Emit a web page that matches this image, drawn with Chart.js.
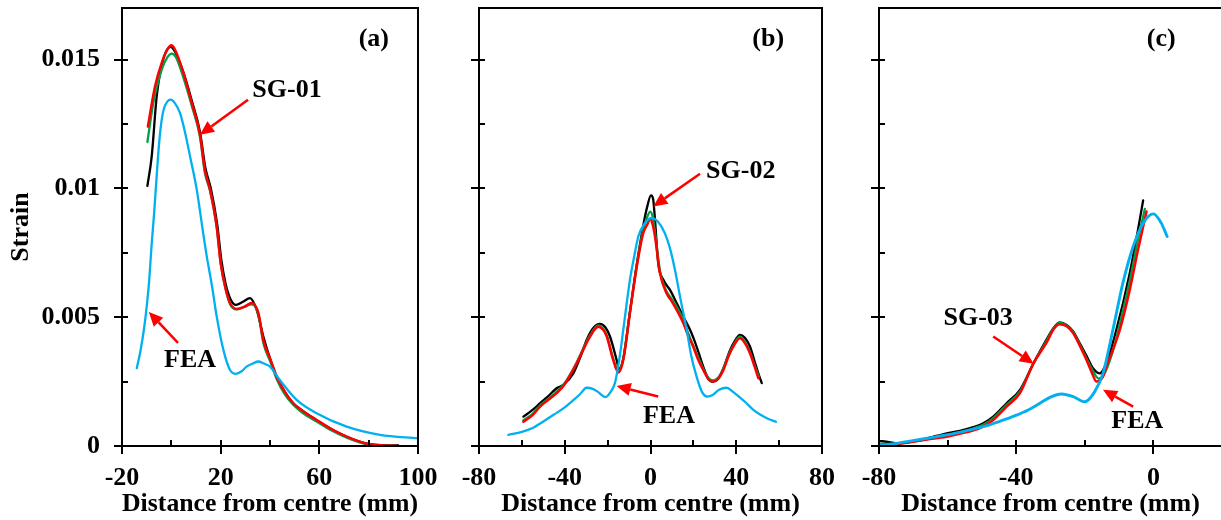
<!DOCTYPE html>
<html>
<head>
<meta charset="utf-8">
<title>Strain profiles</title>
<script src="https://cdn.jsdelivr.net/npm/chart.js@4.4.0/dist/chart.umd.min.js"></script>
<style>
  html, body { margin: 0; padding: 0; background: #fff; overflow: hidden; }
  #wrap { position: relative; width: 1221px; height: 520px; overflow: hidden; }
  canvas { position: absolute; top: 0; }
</style>
</head>
<body>
<div id="wrap">
  <canvas id="panelA" width="440" height="520" style="left:0px"></canvas>
  <canvas id="panelB" width="400" height="520" style="left:440px"></canvas>
  <canvas id="panelC" width="400" height="520" style="left:840px"></canvas>
</div>
<script>
// strain along the specimen, three gauges SG-01..SG-03, three test records + FEA

// ---- (a) SG-01 ----
const aBlackX = [-9.7, -8, -5.9, -3.3, -0.3, 1.5, 4.9, 8.3, 11.6, 13.8, 16, 18.6, 20.3, 22, 24, 26.2, 29, 31.9, 34.6, 37.3, 40, 42.7, 46, 49.4, 53, 58.9, 65, 71.1, 76, 80.5, 86, 92];
const aBlackY = [0.0101, 0.0112, 0.0136, 0.0150, 0.01549, 0.0153, 0.0145, 0.0134, 0.0122, 0.0108, 0.0100, 0.0086, 0.0072, 0.0063, 0.0057, 0.00548, 0.0056, 0.00574, 0.00528, 0.00425, 0.0034, 0.0027, 0.0021, 0.00166, 0.00138, 0.0010, 0.00065, 0.00036, 0.00018, 0.00007, 0.00003, 0.00002];
const aGreenX = [-9.7, -7.3, -3.9, -1.5, 0.1, 1.8, 4.9, 8.3, 11.6, 13.6, 15.7, 18.4, 20, 22, 23.8, 26.5, 29.5, 32.6, 35.3, 37.3, 40, 42.7, 46, 49.4, 53, 58.9, 65, 71.1, 76, 80.5, 86, 90];
const aGreenY = [0.0118, 0.01331, 0.01461, 0.0151, 0.01523, 0.0151, 0.0143, 0.0132, 0.0120, 0.0106, 0.0099, 0.0085, 0.0071, 0.0061, 0.0055, 0.0053, 0.0054, 0.0055, 0.0051, 0.0040, 0.0033, 0.0026, 0.0020, 0.0016, 0.0013, 0.00095, 0.0006, 0.00032, 0.00015, 0.00004, 0.0, 0.0];
const aRedX = [-9.5, -6.6, -3.9, -1.5, 0, 1.5, 4.9, 8.3, 11.6, 13.6, 15.7, 18.4, 20, 22, 23.8, 26.5, 29.5, 32.6, 35.3, 37.3, 40, 42.7, 46, 49.4, 53, 58.9, 65, 71.1, 76, 80.5, 86, 91.4];
const aRedY = [0.0124, 0.01396, 0.01487, 0.0154, 0.01555, 0.01538, 0.01448, 0.01331, 0.0121, 0.0107, 0.00995, 0.0085, 0.0071, 0.0061, 0.00555, 0.00532, 0.0054, 0.00555, 0.00516, 0.0041, 0.0034, 0.00269, 0.0021, 0.00166, 0.00138, 0.00101, 0.00065, 0.00036, 0.00018, 0.00006, 0.00002, 0.0];
const aFeaX = [-14, -12.5, -11, -10, -9, -8, -7, -6, -5, -4, -3, -1.5, -0.3, 1.5, 3.5, 5.5, 7.6, 10.3, 12.7, 14.3, 16.5, 18.4, 21.1, 23.8, 26.2, 28.5, 30.5, 33, 35.3, 37.5, 40, 44, 50.8, 58.9, 71.1, 84.6, 100];
const aFeaY = [0.00302, 0.0037, 0.0046, 0.0054, 0.0064, 0.0078, 0.0090, 0.0104, 0.0117, 0.0126, 0.0131, 0.01338, 0.01344, 0.0133, 0.01293, 0.0122, 0.01124, 0.00995, 0.0084, 0.0074, 0.0062, 0.00502, 0.00373, 0.00295, 0.0028, 0.0029, 0.00308, 0.0032, 0.00328, 0.0032, 0.00308, 0.00256, 0.00179, 0.00127, 0.00075, 0.00043, 0.0003];

// ---- (b) SG-02 ----
const bBlackX = [-59.3, -55, -51.5, -47.5, -43.8, -40.7, -36, -32.5, -29.8, -26.5, -23.6, -21, -18.9, -15.8, -14.7, -12.7, -9.6, -6.5, -3.5, -1.5, 0.2, 1.2, 2.1, 3.6, 6, 9.1, 12.2, 15.3, 18.5, 21.5, 24.6, 27, 29.2, 31.5, 34, 37, 39.5, 41.7, 44, 46.4, 48.5, 50.3, 51.9];
const bBlackY = [0.00114, 0.0014, 0.00166, 0.00195, 0.00224, 0.00237, 0.00282, 0.0035, 0.00412, 0.0046, 0.00474, 0.0046, 0.00425, 0.00334, 0.00298, 0.0034, 0.0052, 0.0070, 0.0085, 0.0093, 0.00973, 0.0096, 0.00878, 0.0071, 0.00645, 0.00606, 0.00555, 0.00502, 0.0045, 0.00386, 0.00308, 0.0026, 0.0025, 0.0026, 0.00302, 0.0037, 0.0041, 0.00431, 0.0042, 0.00386, 0.0033, 0.00282, 0.00244];
const bGreenX = [-59.3, -55, -51.5, -47.5, -43.8, -40, -36.5, -34.4, -31, -28.2, -24.4, -22, -20.4, -17.4, -15, -12.7, -9.6, -6.4, -3.4, -1.5, -0.1, 1, 2.1, 4.4, 7.5, 10, 12.2, 15.3, 17.5, 19.9, 22, 24.6, 27, 29, 31.5, 34, 36.5, 38.6, 41.7, 44, 46.4, 48.5, 50.5];
const bGreenY = [0.001, 0.00125, 0.00158, 0.00185, 0.0021, 0.00245, 0.00292, 0.00325, 0.00385, 0.0043, 0.00468, 0.00455, 0.0043, 0.0034, 0.0029, 0.0034, 0.0052, 0.0070, 0.0084, 0.0089, 0.0091, 0.0089, 0.0083, 0.0068, 0.0060, 0.0057, 0.0054, 0.0049, 0.0044, 0.0039, 0.0035, 0.003, 0.00265, 0.00255, 0.00265, 0.003, 0.00355, 0.0039, 0.00424, 0.00405, 0.00365, 0.00315, 0.0027];
const bRedX = [-59.3, -55, -51.5, -47.5, -43.8, -40, -36.5, -34.4, -31, -28.2, -24.4, -22, -20.4, -17.4, -15, -12.7, -9.6, -6.4, -3.4, -1.5, -0.2, 1, 2.1, 4.4, 7.5, 10, 12.2, 15.3, 17.5, 19.9, 22, 24.6, 27, 29, 31.5, 34, 36.5, 38.6, 41.7, 44, 46.4, 48.5, 50.3];
const bRedY = [0.00094, 0.0012, 0.00153, 0.0018, 0.00205, 0.0024, 0.0029, 0.00321, 0.0038, 0.00425, 0.00463, 0.0045, 0.00425, 0.00334, 0.00285, 0.00334, 0.00516, 0.00697, 0.00826, 0.0086, 0.0088, 0.0086, 0.00813, 0.00671, 0.00593, 0.0056, 0.00528, 0.00477, 0.0043, 0.00386, 0.0034, 0.00295, 0.0026, 0.0025, 0.0026, 0.00295, 0.0035, 0.00386, 0.00418, 0.0040, 0.0036, 0.0031, 0.00263];
const bFeaX = [-66.3, -60, -55, -50, -45, -40, -36, -33, -29.8, -27, -24.5, -22.5, -20.9, -19, -16.6, -14.5, -12.7, -9.6, -7.5, -5.7, -3, 0.5, 3.5, 6.7, 9, 11.4, 14, 16.9, 19, 21.5, 24, 26.5, 29, 32, 35.5, 38.5, 41.5, 44.8, 48, 51.5, 55, 58.5];
const bFeaY = [0.00043, 0.00055, 0.0007, 0.00095, 0.00122, 0.0015, 0.00178, 0.002, 0.00226, 0.00222, 0.0021, 0.00196, 0.0019, 0.00205, 0.00244, 0.0034, 0.00451, 0.00645, 0.0074, 0.00813, 0.0086, 0.00885, 0.0087, 0.00826, 0.0077, 0.00684, 0.0057, 0.00451, 0.0035, 0.00269, 0.0021, 0.00192, 0.00198, 0.00218, 0.00226, 0.0021, 0.0019, 0.00166, 0.0014, 0.0012, 0.00105, 0.00094];

// ---- (c) SG-03 ----
const cBlackX = [-80, -77, -74.8, -71, -67.1, -63, -60.3, -56.4, -52.5, -49.6, -46.7, -42.8, -38.9, -35, -31.2, -29, -27.3, -25.3, -23.4, -21.5, -19.5, -17.5, -15.6, -13.5, -10.8, -6.9, -4.5, -3];
const cBlackY = [0.0002, 0.00015, 0.0001, 0.00015, 0.00026, 0.0004, 0.00049, 0.00059, 0.00073, 0.00088, 0.00114, 0.00166, 0.00218, 0.0032, 0.00412, 0.0046, 0.0048, 0.0047, 0.00445, 0.004, 0.0035, 0.003, 0.00282, 0.0033, 0.00451, 0.00671, 0.00839, 0.00953];
const cGreenX = [-80, -76, -71.9, -67, -63, -60.3, -56, -52.5, -49.6, -46.7, -42.8, -38.9, -35, -31.2, -29, -27.3, -25.3, -23.4, -21.5, -19.5, -17.5, -16, -14.5, -12, -9.5, -6.9, -4.5, -2.5];
const cGreenY = [0.00008, 0.00008, 0.00014, 0.00024, 0.00036, 0.00043, 0.00054, 0.00068, 0.00082, 0.00108, 0.0016, 0.00212, 0.0032, 0.00406, 0.00458, 0.00478, 0.00468, 0.00442, 0.00395, 0.0034, 0.00288, 0.00262, 0.00275, 0.0036, 0.0049, 0.0064, 0.0080, 0.0092];
const cRedX = [-80, -76, -71.9, -66, -60.3, -55, -50.6, -46.7, -42.8, -38.9, -35, -31.2, -29, -27.3, -25.3, -23.4, -21.5, -19.5, -17.8, -16.6, -14.7, -13.7, -9.8, -6.9, -4.5, -2];
const cRedY = [0.00004, 0.00007, 0.00013, 0.00025, 0.00036, 0.00052, 0.00069, 0.00101, 0.00153, 0.00205, 0.0032, 0.004, 0.00455, 0.00473, 0.00465, 0.00438, 0.0039, 0.00334, 0.0028, 0.0025, 0.00269, 0.00308, 0.00451, 0.00606, 0.00761, 0.0091];
const cFeaX = [-80, -76, -71.9, -66, -60.3, -55, -49.6, -45, -39.9, -36.5, -33.1, -30, -26.8, -23.4, -20, -17.1, -14.7, -11.8, -8.9, -5.9, -3, 0, 2.3, 4];
const cFeaY = [0.00002, 0.00008, 0.00017, 0.0003, 0.00043, 0.00058, 0.00075, 0.00095, 0.0012, 0.0014, 0.00166, 0.0019, 0.00202, 0.00192, 0.00172, 0.00211, 0.00282, 0.00451, 0.00632, 0.00774, 0.00865, 0.00901, 0.00865, 0.00813];

// tick labels
const yMajorTicks = [0, 0.005, 0.01, 0.015];
const yTickLabels = ['0', '0.005', '0.01', '0.015'];
const aXTicks = [-20, 20, 60, 100];
const aXTickLabels = ['-20', '20', '60', '100'];
const bXTicks = [-80, -40, 0, 40, 80];
const bXTickLabels = ['-80', '-40', '0', '40', '80'];
const cXTicks = [-80, -40, 0];
const cXTickLabels = ['-80', '-40', '0'];

const FONT = { family: '"Liberation Serif", "Times New Roman", serif', size: 26, weight: 'bold' };
const FONT_CSS = 'bold 26px "Liberation Serif", "Times New Roman", serif';
const BLACK = '#000000', GREEN = '#00a04b', RED = '#ff0000', CYAN = '#00b0f0';

// which x ticks get a label (and a long tick mark) on each panel
const xMajorByPanel = { panelA: aXTicks, panelB: bXTicks, panelC: cXTicks };

// text + arrows, in data units of each panel
const notes = {
  panelA: {
    labels: [{ text: '(a)', x: 82.1, y: 0.01577 }, { text: 'SG-01', x: 46.9, y: 0.01379 }, { text: 'FEA', x: 7.6, y: 0.00334 }],
    arrows: [{ x1: 31.1, y1: 0.01344, x2: 11.6, y2: 0.01208 }, { x1: 2.7, y1: 0.0040, x2: -9.1, y2: 0.0052 }]
  },
  panelB: {
    labels: [{ text: '(b)', x: 54.9, y: 0.01577 }, { text: 'SG-02', x: 42.1, y: 0.01066 }, { text: 'FEA', x: 8.6, y: 0.00117 }],
    arrows: [{ x1: 23.1, y1: 0.01057, x2: 1.3, y2: 0.0093 }, { x1: 3.6, y1: 0.00192, x2: -15.8, y2: 0.00233 }]
  },
  panelC: {
    labels: [{ text: '(c)', x: 2.3, y: 0.01577 }, { text: 'SG-03', x: -51.1, y: 0.00496 }, { text: 'FEA', x: -4.7, y: 0.00094 }],
    arrows: [{ x1: -46.7, y1: 0.00425, x2: -34.9, y2: 0.00319 }, { x1: -5.9, y1: 0.00153, x2: -14.7, y2: 0.00218 }]
  }
};

function pts(xs, ys) {
  return xs.map((x, i) => ({ x: x, y: ys[i] }));
}

function curve(label, xs, ys, color, width, order) {
  return {
    label: label,
    data: pts(xs, ys),
    showLine: true,
    borderColor: color,
    backgroundColor: color,
    borderWidth: width,
    pointRadius: 0,
    cubicInterpolationMode: 'monotone',
    borderCapStyle: 'round',
    borderJoinStyle: 'round',
    order: order
  };
}

function near(list, v) {
  return list.findIndex((m) => Math.abs(m - v) < 1e-9);
}

// box round the plot area, ticks crossing the axes (major) or inside only (minor)
const frameTicks = {
  id: 'frameTicks',
  afterDraw(chart) {
    const { ctx, chartArea: a, scales } = chart;
    const xs = scales.x, ys = scales.y;
    const major = xMajorByPanel[chart.canvas.id];
    ctx.save();
    ctx.strokeStyle = '#000';
    ctx.lineWidth = 2;
    ctx.strokeRect(a.left, a.top, a.right - a.left, a.bottom - a.top);
    ctx.beginPath();
    xs.ticks.forEach((t) => {
      const px = Math.round(xs.getPixelForValue(t.value));
      const isMajor = near(major, t.value) >= 0;
      ctx.moveTo(px, a.bottom + (isMajor ? 8 : 0));
      ctx.lineTo(px, a.bottom - 6);
    });
    ys.ticks.forEach((t) => {
      const py = Math.round(ys.getPixelForValue(t.value));
      const isMajor = near(yMajorTicks, t.value) >= 0;
      ctx.moveTo(a.left - (isMajor ? 8 : 0), py);
      ctx.lineTo(a.left + 6, py);
    });
    ctx.stroke();
    ctx.restore();
  }
};

function arrow(ctx, x1, y1, x2, y2) {
  const ang = Math.atan2(y2 - y1, x2 - x1);
  const len = 14, half = 6.5;
  const bx = x2 - len * Math.cos(ang), by = y2 - len * Math.sin(ang);
  ctx.beginPath();
  ctx.moveTo(x1, y1);
  ctx.lineTo(bx, by);
  ctx.stroke();
  ctx.beginPath();
  ctx.moveTo(x2, y2);
  ctx.lineTo(bx + half * Math.sin(ang), by - half * Math.cos(ang));
  ctx.lineTo(bx - half * Math.sin(ang), by + half * Math.cos(ang));
  ctx.closePath();
  ctx.fill();
}

const panelNotes = {
  id: 'panelNotes',
  afterDraw(chart) {
    const n = notes[chart.canvas.id];
    const { ctx, scales: { x, y } } = chart;
    ctx.save();
    ctx.strokeStyle = RED;
    ctx.fillStyle = RED;
    ctx.lineWidth = 2.5;
    n.arrows.forEach((ar) => {
      arrow(ctx, x.getPixelForValue(ar.x1), y.getPixelForValue(ar.y1),
        x.getPixelForValue(ar.x2), y.getPixelForValue(ar.y2));
    });
    ctx.font = FONT_CSS;
    ctx.fillStyle = '#000';
    ctx.textAlign = 'center';
    ctx.textBaseline = 'middle';
    n.labels.forEach((l) => ctx.fillText(l.text, x.getPixelForValue(l.x), y.getPixelForValue(l.y)));
    ctx.restore();
  }
};

function makePanel(id, datasets, xMin, xMax, xTicks, xLabels, yWidth, padRight, withYLabels) {
  return new Chart(document.getElementById(id), {
    type: 'scatter',
    data: { datasets: datasets },
    options: {
      responsive: false,
      animation: false,
      layout: { padding: { top: 8, right: padRight, bottom: 0, left: 0 } },
      plugins: { legend: { display: false }, tooltip: { enabled: false } },
      scales: {
        x: {
          type: 'linear',
          min: xMin,
          max: xMax,
          grid: { display: false, drawTicks: false },
          border: { display: false },
          ticks: {
            stepSize: 20,
            autoSkip: false,
            maxRotation: 0,
            padding: 17,
            color: '#000',
            font: FONT,
            callback: (v) => {
              const i = near(xTicks, v);
              return i >= 0 ? xLabels[i] : '';
            }
          },
          title: { display: true, text: 'Distance from centre (mm)', color: '#000', font: FONT, padding: 0 },
          afterFit: (s) => { s.height = 74; s.paddingLeft = 0; s.paddingRight = 0; }
        },
        y: {
          type: 'linear',
          min: 0,
          max: 0.017,
          grid: { display: false, drawTicks: false },
          border: { display: false },
          ticks: {
            stepSize: 0.0025,
            includeBounds: false,
            autoSkip: false,
            display: withYLabels,
            padding: 22,
            color: '#000',
            font: FONT,
            callback: (v) => {
              const i = near(yMajorTicks, v);
              return i >= 0 ? yTickLabels[i] : '';
            }
          },
          title: { display: withYLabels, text: 'Strain', color: '#000', font: FONT, padding: { top: 6, bottom: 0 } },
          afterFit: (s) => { s.width = yWidth; s.paddingTop = 0; s.paddingBottom = 0; }
        }
      }
    },
    plugins: [frameTicks, panelNotes]
  });
}

makePanel('panelA', [
  curve('Test 1', aBlackX, aBlackY, BLACK, 2.3, 4),
  curve('Test 2', aGreenX, aGreenY, GREEN, 2.3, 3),
  curve('Test 3', aRedX, aRedY, RED, 2.5, 2),
  curve('FEA', aFeaX, aFeaY, CYAN, 2.3, 1)
], -20, 100, aXTicks, aXTickLabels, 122, 22, true);

makePanel('panelB', [
  curve('Test 1', bBlackX, bBlackY, BLACK, 2.3, 4),
  curve('Test 2', bGreenX, bGreenY, GREEN, 2.3, 3),
  curve('Test 3', bRedX, bRedY, RED, 2.5, 2),
  curve('FEA', bFeaX, bFeaY, CYAN, 2.3, 1)
], -80, 80, bXTicks, bXTickLabels, 39, 18, false);

makePanel('panelC', [
  curve('Test 1', cBlackX, cBlackY, BLACK, 2.3, 4),
  curve('Test 2', cGreenX, cGreenY, GREEN, 2.3, 3),
  curve('Test 3', cRedX, cRedY, RED, 2.5, 2),
  curve('FEA', cFeaX, cFeaY, CYAN, 2.9, 1)
], -80, 20, cXTicks, cXTickLabels, 39, 18, false);
</script>
</body>
</html>
